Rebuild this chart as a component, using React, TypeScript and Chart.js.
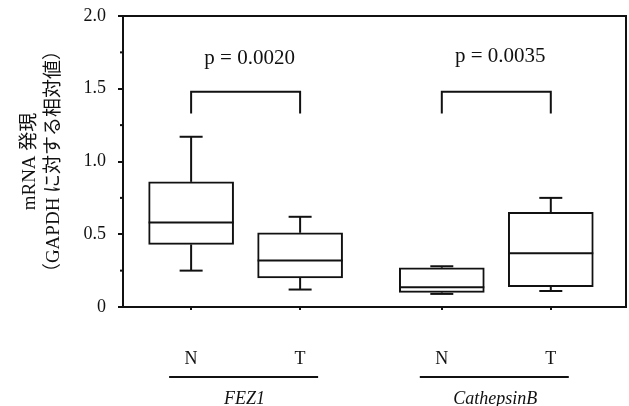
import React, { useEffect, useRef } from 'react';
import { Chart, registerables } from 'chart.js';
Chart.register(...registerables);

// ---- data ----
const categories = ['N', 'T', 'N', 'T'];
const groups = ['FEZ1', 'CathepsinB'];
const groupMembers = [[0, 1], [2, 3]];
const whiskerMin = [0.25, 0.12, 0.09, 0.11];
const q1 = [0.43, 0.2, 0.1, 0.14];
const median = [0.58, 0.32, 0.135, 0.37];
const q3 = [0.86, 0.51, 0.27, 0.65];
const whiskerMax = [1.17, 0.62, 0.28, 0.75];
const pLabels = ['p = 0.0020', 'p = 0.0035'];
const bracketTop = [1.48, 1.48];
const bracketLeg = [1.33, 1.33];
const pLabelY = [1.71, 1.72];
const yTitle = ['mRNA 発現', '（GAPDH に対する相対値）'];

// ---- layout (positions on the x scale) ----
const xPos = [1, 2, 3.3, 4.3];

const SERIF = "'Liberation Serif', 'Noto Sans CJK JP', serif";
const INK = '#111';

const extras = {
  id: 'boxExtras',
  afterDatasetsDraw(chart: any) {
    const { ctx, scales } = chart;
    const x = scales.x;
    const y = scales.y;
    const meta = chart.getDatasetMeta(0);
    const line = (x1: number, y1: number, x2: number, y2: number) => {
      ctx.beginPath();
      ctx.moveTo(x1, y1);
      ctx.lineTo(x2, y2);
      ctx.stroke();
    };
    ctx.save();
    ctx.strokeStyle = INK;
    ctx.lineWidth = 2;
    categories.forEach((_, i) => {
      const cx = x.getPixelForValue(xPos[i]);
      const half = meta.data[i].width / 2;
      const cap = 11.5;
      const yMax = y.getPixelForValue(whiskerMax[i]);
      const yMin = y.getPixelForValue(whiskerMin[i]);
      const yQ1 = y.getPixelForValue(q1[i]);
      const yQ3 = y.getPixelForValue(q3[i]);
      const yMed = y.getPixelForValue(median[i]);
      line(cx, yQ3, cx, yMax);
      line(cx - cap, yMax, cx + cap, yMax);
      line(cx, yQ1, cx, yMin);
      line(cx - cap, yMin, cx + cap, yMin);
      line(cx - half, yMed, cx + half, yMed);
    });
    // brackets + p labels
    ctx.fillStyle = INK;
    ctx.textAlign = 'center';
    ctx.textBaseline = 'middle';
    groupMembers.forEach((m, g) => {
      const xa = x.getPixelForValue(xPos[m[0]]);
      const xb = x.getPixelForValue(xPos[m[1]]);
      const yt = y.getPixelForValue(bracketTop[g]);
      const yl = y.getPixelForValue(bracketLeg[g]);
      ctx.beginPath();
      ctx.moveTo(xa, yl);
      ctx.lineTo(xa, yt);
      ctx.lineTo(xb, yt);
      ctx.lineTo(xb, yl);
      ctx.stroke();
      ctx.font = `21px ${SERIF}`;
      ctx.fillText(pLabels[g], (xa + xb) / 2 + 4, y.getPixelForValue(pLabelY[g]));
    });
    ctx.restore();
  },
  afterDraw(chart: any) {
    const { ctx, chartArea, scales } = chart;
    const x = scales.x;
    const y = scales.y;
    ctx.save();
    ctx.strokeStyle = INK;
    ctx.lineWidth = 2;
    ctx.strokeRect(chartArea.left, chartArea.top, chartArea.right - chartArea.left, chartArea.bottom - chartArea.top);
    // minor y ticks between labelled ticks
    const ticks = y.ticks;
    for (let k = 0; k < ticks.length - 1; k++) {
      const v = (ticks[k].value + ticks[k + 1].value) / 2;
      const py = y.getPixelForValue(v);
      ctx.beginPath();
      ctx.moveTo(chartArea.left - 3, py);
      ctx.lineTo(chartArea.left, py);
      ctx.stroke();
    }
    // group underlines + names
    ctx.fillStyle = INK;
    ctx.textAlign = 'center';
    ctx.textBaseline = 'middle';
    const lineY = chartArea.bottom + 70;
    groupMembers.forEach((m, g) => {
      const xa = x.getPixelForValue(xPos[m[0]]);
      const xb = x.getPixelForValue(xPos[m[1]]);
      ctx.beginPath();
      ctx.moveTo(xa - 22, lineY);
      ctx.lineTo(xb + 18, lineY);
      ctx.stroke();
      ctx.font = `italic 18px ${SERIF}`;
      ctx.fillText(groups[g], (xa + xb) / 2 - 1, lineY + 22);
    });
    ctx.restore();
  },
};

export default function App() {
  const ref = useRef<HTMLCanvasElement>(null);
  useEffect(() => {
    if (!ref.current) return;
    const chart = new Chart(ref.current, {
      type: 'bar',
      data: {
        datasets: [
          {
            data: xPos.map((xv, i) => ({ x: xv, y: [q1[i], q3[i]] })) as any,
            backgroundColor: '#fff',
            borderColor: INK,
            borderWidth: 2,
            borderSkipped: false,
            barThickness: 85,
          },
        ],
      },
      options: {
        animation: false,
        responsive: false,
        devicePixelRatio: 1,
        layout: { padding: { top: 16, right: 3, left: 0, bottom: 0 } },
        plugins: { legend: { display: false }, tooltip: { enabled: false }, title: { display: false } },
        scales: {
          x: {
            type: 'linear',
            offset: false,
            min: 0.375,
            max: 4.99,
            afterBuildTicks: (scale: any) => {
              scale.ticks = xPos.map((v) => ({ value: v }));
            },
            afterFit: (scale: any) => {
              scale.height = 99;
            },
            ticks: {
              autoSkip: false,
              maxRotation: 0,
              padding: 38,
              color: INK,
              font: { family: SERIF, size: 18 },
              callback: (_v: any, i: number) => categories[i],
            },
            grid: { drawOnChartArea: false, offset: false, tickLength: 3, color: INK, lineWidth: 2 },
            border: { display: false },
          },
          y: {
            type: 'linear',
            min: 0,
            max: 2,
            afterFit: (scale: any) => {
              scale.width = 123;
              scale.paddingTop = 0;
              scale.paddingBottom = 0;
            },
            ticks: {
              stepSize: 0.5,
              padding: 12,
              color: INK,
              font: { family: SERIF, size: 18 },
              callback: (v: any) => (v === 0 ? '0' : Number(v).toFixed(1)),
            },
            grid: { drawOnChartArea: false, tickLength: 5, color: INK, lineWidth: 2 },
            border: { display: false },
            title: {
              display: true,
              text: yTitle,
              color: INK,
              font: { family: SERIF, size: 19, lineHeight: 1.25 },
              padding: { top: 18, bottom: 0 },
            },
          },
        },
      },
      plugins: [extras],
    });
    return () => chart.destroy();
  }, []);
  return (
    <div style={{ position: 'absolute', left: 0, top: 0, width: 629, height: 406, background: '#fff' }}>
      <canvas ref={ref} width={629} height={406} />
    </div>
  );
}
